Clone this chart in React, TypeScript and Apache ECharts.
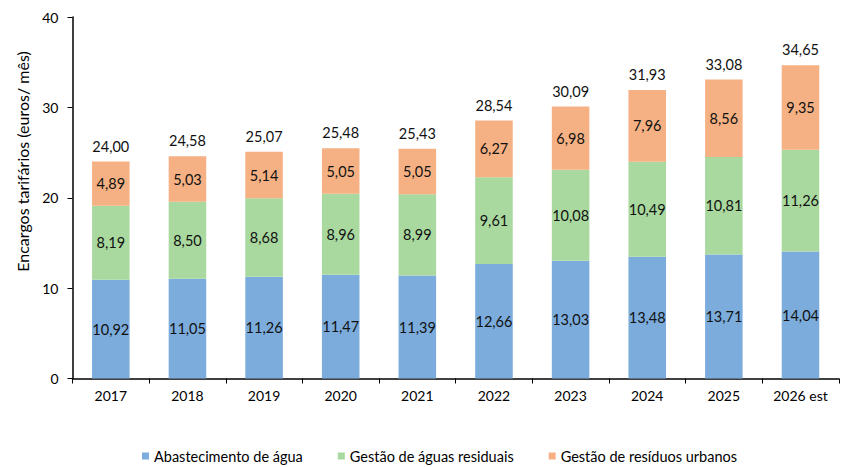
import React, { useEffect, useRef } from "react";
import * as echarts from "echarts";

const categories = ["2017", "2018", "2019", "2020", "2021", "2022", "2023", "2024", "2025", "2026 est"];
const abastecimento = [10.92, 11.05, 11.26, 11.47, 11.39, 12.66, 13.03, 13.48, 13.71, 14.04];
const aguasResiduais = [8.19, 8.5, 8.68, 8.96, 8.99, 9.61, 10.08, 10.49, 10.81, 11.26];
const residuosUrbanos = [4.89, 5.03, 5.14, 5.05, 5.05, 6.27, 6.98, 7.96, 8.56, 9.35];
const totals = [24.0, 24.58, 25.07, 25.48, 25.43, 28.54, 30.09, 31.93, 33.08, 34.65];
const seriesNames = ["Abastecimento de água", "Gestão de águas residuais", "Gestão de resíduos urbanos"];
const yTitle = "Encargos tarifários (euros/ mês)";
const colors = ["#7BACDC", "#A9D99F", "#F5B183"];

const fmt = (v: number) => v.toFixed(2).replace(".", ",");
const FONT = "Lato, 'Open Sans', sans-serif";

export default function App() {
  const ref = useRef<HTMLDivElement>(null);
  useEffect(() => {
    if (!ref.current) return;
    const chart = echarts.init(ref.current, null, { renderer: "svg" });
    const segLabel = {
      show: true,
      position: "inside",
      color: "#111",
      fontSize: 14.5,
      fontFamily: FONT,
      formatter: (p: any) => fmt(p.value),
    };
    const dataSets = [abastecimento, aguasResiduais, residuosUrbanos];
    chart.setOption({
      animation: false,
      textStyle: { fontFamily: FONT },
      grid: { left: 72.5, right: 11.2, top: 17, bottom: 88.5, containLabel: false },
      legend: {
        data: seriesNames,
        top: 443.5,
        left: 137,
        itemWidth: 7,
        itemHeight: 7,
        itemGap: 35,
        icon: "rect",
        textStyle: { fontSize: 14.5, color: "#000", fontFamily: FONT },
      },
      graphic: [
        {
          type: "text",
          x: 22.5,
          y: 161.5,
          rotation: Math.PI / 2,
          style: {
            text: yTitle,
            fill: "#000",
            fontSize: 16,
            fontFamily: FONT,
            textAlign: "center",
            textVerticalAlign: "middle",
          },
        },
      ],
      xAxis: {
        type: "category",
        data: categories,
        axisLine: { lineStyle: { color: "#000", width: 1.5 } },
        axisTick: { show: true, alignWithLabel: false, length: 5, lineStyle: { color: "#000" } },
        axisLabel: { color: "#000", fontSize: 14, margin: 10, fontFamily: FONT },
      },
      yAxis: {
        type: "value",
        min: 0,
        max: 40,
        interval: 10,
        splitLine: { show: false },
        axisLine: { show: true, lineStyle: { color: "#000", width: 1.5 } },
        axisTick: { show: true, length: 5, lineStyle: { color: "#000" } },
        axisLabel: { color: "#000", fontSize: 14, margin: 14, fontFamily: FONT },
      },
      series: [
        ...dataSets.map((d, i) => ({
          name: seriesNames[i],
          type: "bar",
          stack: "total",
          barWidth: "49%",
          data: d,
          itemStyle: { color: colors[i] },
          label: segLabel,
        })),
        {
          name: "Total",
          type: "bar",
          stack: "total",
          barWidth: "49%",
          data: totals.map(() => 0),
          itemStyle: { color: "transparent" },
          label: {
            show: true,
            position: "top",
            distance: 8,
            color: "#111",
            fontSize: 14.5,
            fontFamily: FONT,
            formatter: (p: any) => fmt(totals[p.dataIndex]),
          },
        },
      ],
    });
    return () => chart.dispose();
  }, []);
  return <div ref={ref} style={{ position: "absolute", left: 0, top: 0, width: 850, height: 467 }} />;
}
